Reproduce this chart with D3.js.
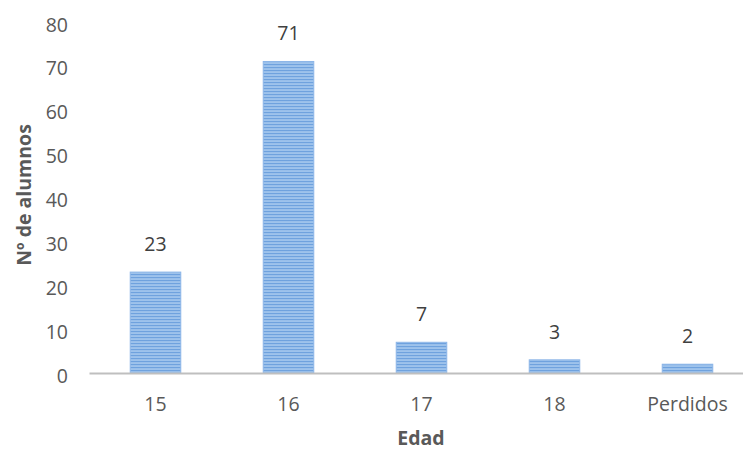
<!DOCTYPE html>
<html><head><meta charset="utf-8">
<script src="https://cdn.jsdelivr.net/npm/d3@7"></script>
<style>body{margin:0;background:#fff}svg{display:block}</style>
</head><body>
<script>
const categories = ["15", "16", "17", "18", "Perdidos"];
const values = [23, 71, 7, 3, 2];
const yTicks = [0, 10, 20, 30, 40, 50, 60, 70, 80];
const xTitle = "Edad";
const yTitle = "Nº de alumnos";

const W = 743, H = 452;
const svg = d3.select("body").append("svg").attr("width", W).attr("height", H);
const font = "'Open Sans', 'Liberation Sans', sans-serif";
const fs = 19.5;

const defs = svg.append("defs");
const pat = defs.append("pattern").attr("id", "stripes").attr("patternUnits", "userSpaceOnUse")
  .attr("width", 8).attr("height", 3);
pat.append("rect").attr("width", 8).attr("height", 3).attr("fill", "#9ec3ec");
pat.append("rect").attr("y", 1).attr("width", 8).attr("height", 1.1).attr("fill", "#6fa2de");

const x = d3.scaleBand().domain(categories).range([89, 754]).paddingInner(0.62).paddingOuter(0.31);
const y = d3.scaleLinear().domain([0, 80]).range([373, 22]);

// y tick labels
svg.append("g").selectAll("text").data(yTicks).join("text")
  .attr("x", 68).attr("y", d => y(d) + 9.5)
  .attr("text-anchor", "end").attr("font-family", font).attr("font-size", fs)
  .attr("fill", "#595959").text(d => d);

// bars
svg.append("g").selectAll("rect").data(values).join("rect")
  .attr("x", (d, i) => x(categories[i]))
  .attr("y", d => y(d))
  .attr("width", x.bandwidth())
  .attr("height", d => y(0) - y(d))
  .attr("fill", "url(#stripes)")
  .attr("stroke", "#8db6e8").attr("stroke-width", 1);

// axis line
const xAxis = d3.axisBottom(x).tickSize(0).tickPadding(0);
const gx = svg.append("g").attr("transform", `translate(0,${y(0)})`).call(xAxis);
gx.select(".domain").attr("stroke", "#bfbfbf").attr("stroke-width", 2);
gx.selectAll("text").attr("dy", null).attr("y", 38)
  .attr("font-family", font).attr("font-size", fs).attr("fill", "#595959");

// data labels
svg.append("g").selectAll("text").data(values).join("text")
  .attr("x", (d, i) => x(categories[i]) + x.bandwidth() / 2)
  .attr("y", d => y(d) - 21)
  .attr("text-anchor", "middle").attr("font-family", font).attr("font-size", fs)
  .attr("fill", "#404040").text(d => d);

// titles
svg.append("text").attr("x", 421).attr("y", 445).attr("text-anchor", "middle")
  .attr("font-family", font).attr("font-size", fs).attr("font-weight", "bold")
  .attr("fill", "#595959").text(xTitle);
svg.append("text").attr("transform", "translate(31,195) rotate(-90)").attr("text-anchor", "middle")
  .attr("font-family", font).attr("font-size", fs).attr("font-weight", "bold")
  .attr("fill", "#595959").text(yTitle);
</script>
</body></html>
